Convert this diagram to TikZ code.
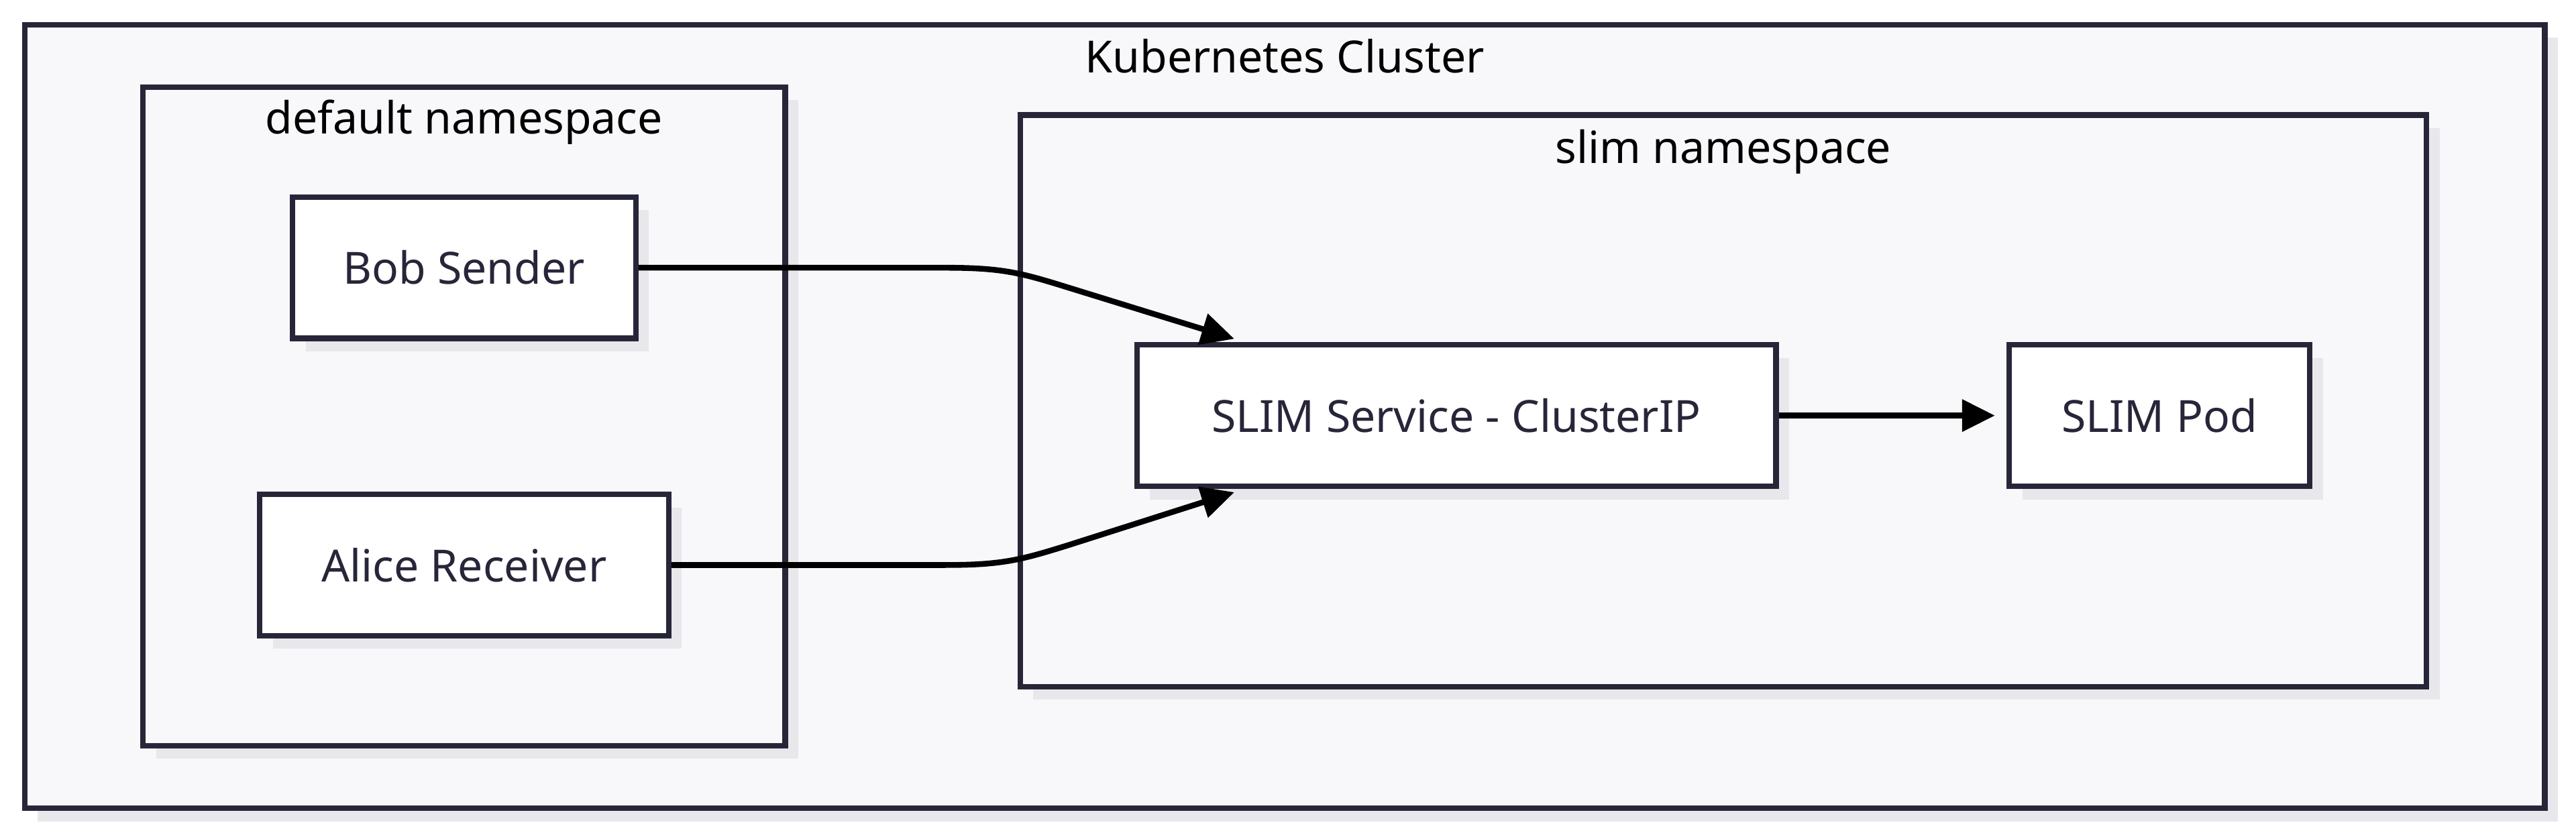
\documentclass[tikz,border=0pt]{standalone}
\usepackage{fontspec}
\setmainfont{Noto Sans}
\usepackage{tikz}
\usetikzlibrary{arrows.meta,shadows}
\definecolor{ink}{HTML}{272639}
\definecolor{clusterbg}{HTML}{F8F8FA}
\definecolor{shade}{HTML}{E8E8EC}

\begin{document}
\begin{tikzpicture}[x=1pt,y=-1pt,font=\fontsize{27}{32}\selectfont]
\tikzstyle{frame}=[rectangle, draw=ink, line width=3.4pt, fill=clusterbg, inner sep=0pt, general shadow={fill=shade, shadow xshift=8pt, shadow yshift=-8pt}]
\tikzstyle{svcbox}=[rectangle, draw=ink, line width=3.4pt, fill=white, text=ink, minimum height=86pt, general shadow={fill=shade, shadow xshift=8pt, shadow yshift=-8pt}]
\tikzstyle{title}=[inner sep=0pt, anchor=base, text=black]
\tikzstyle{connect}=[-{Triangle[length=20pt,width=19pt]}, line width=3.5pt, black]
\useasboundingbox (0,0) rectangle (1568,509.2);

\node[frame, minimum width=1534pt, minimum height=477pt] (cluster) at (782,253.5) {};
\node[title] (clustername) at (782,44.5) {Kubernetes Cluster};

\node[frame, minimum width=391pt, minimum height=401pt] (defaultns) at (282.5,253.5) {};
\node[title] (defaultname) at (282.5,81.5) {default namespace};
\node[svcbox, minimum width=209pt] (bob) at (282.5,163) {Bob Sender};
\node[svcbox, minimum width=249pt] (alice) at (282.5,344) {Alice Receiver};

\node[frame, minimum width=856pt, minimum height=348pt] (slimns) at (1049,244) {};
\node[title] (slimname) at (1049,99.5) {slim namespace};
\node[svcbox, minimum width=389pt] (svc) at (886.5,253) {SLIM Service - ClusterIP};
\node[svcbox, minimum width=183pt] (slimpod) at (1314.5,253) {SLIM Pod};

\draw[connect] (bob.east) -- (575,163) .. controls (610,163) and (621,166) .. (650,175) -- ([xshift=61pt,yshift=2pt]svc.north west);
\draw[connect] (alice.east) -- (575,344) .. controls (610,344) and (621,341) .. (650,332) -- ([xshift=61pt,yshift=-2pt]svc.south west);
\path
	(svc) edge[connect, shorten >=7pt] (slimpod);

\end{tikzpicture}
\end{document}
